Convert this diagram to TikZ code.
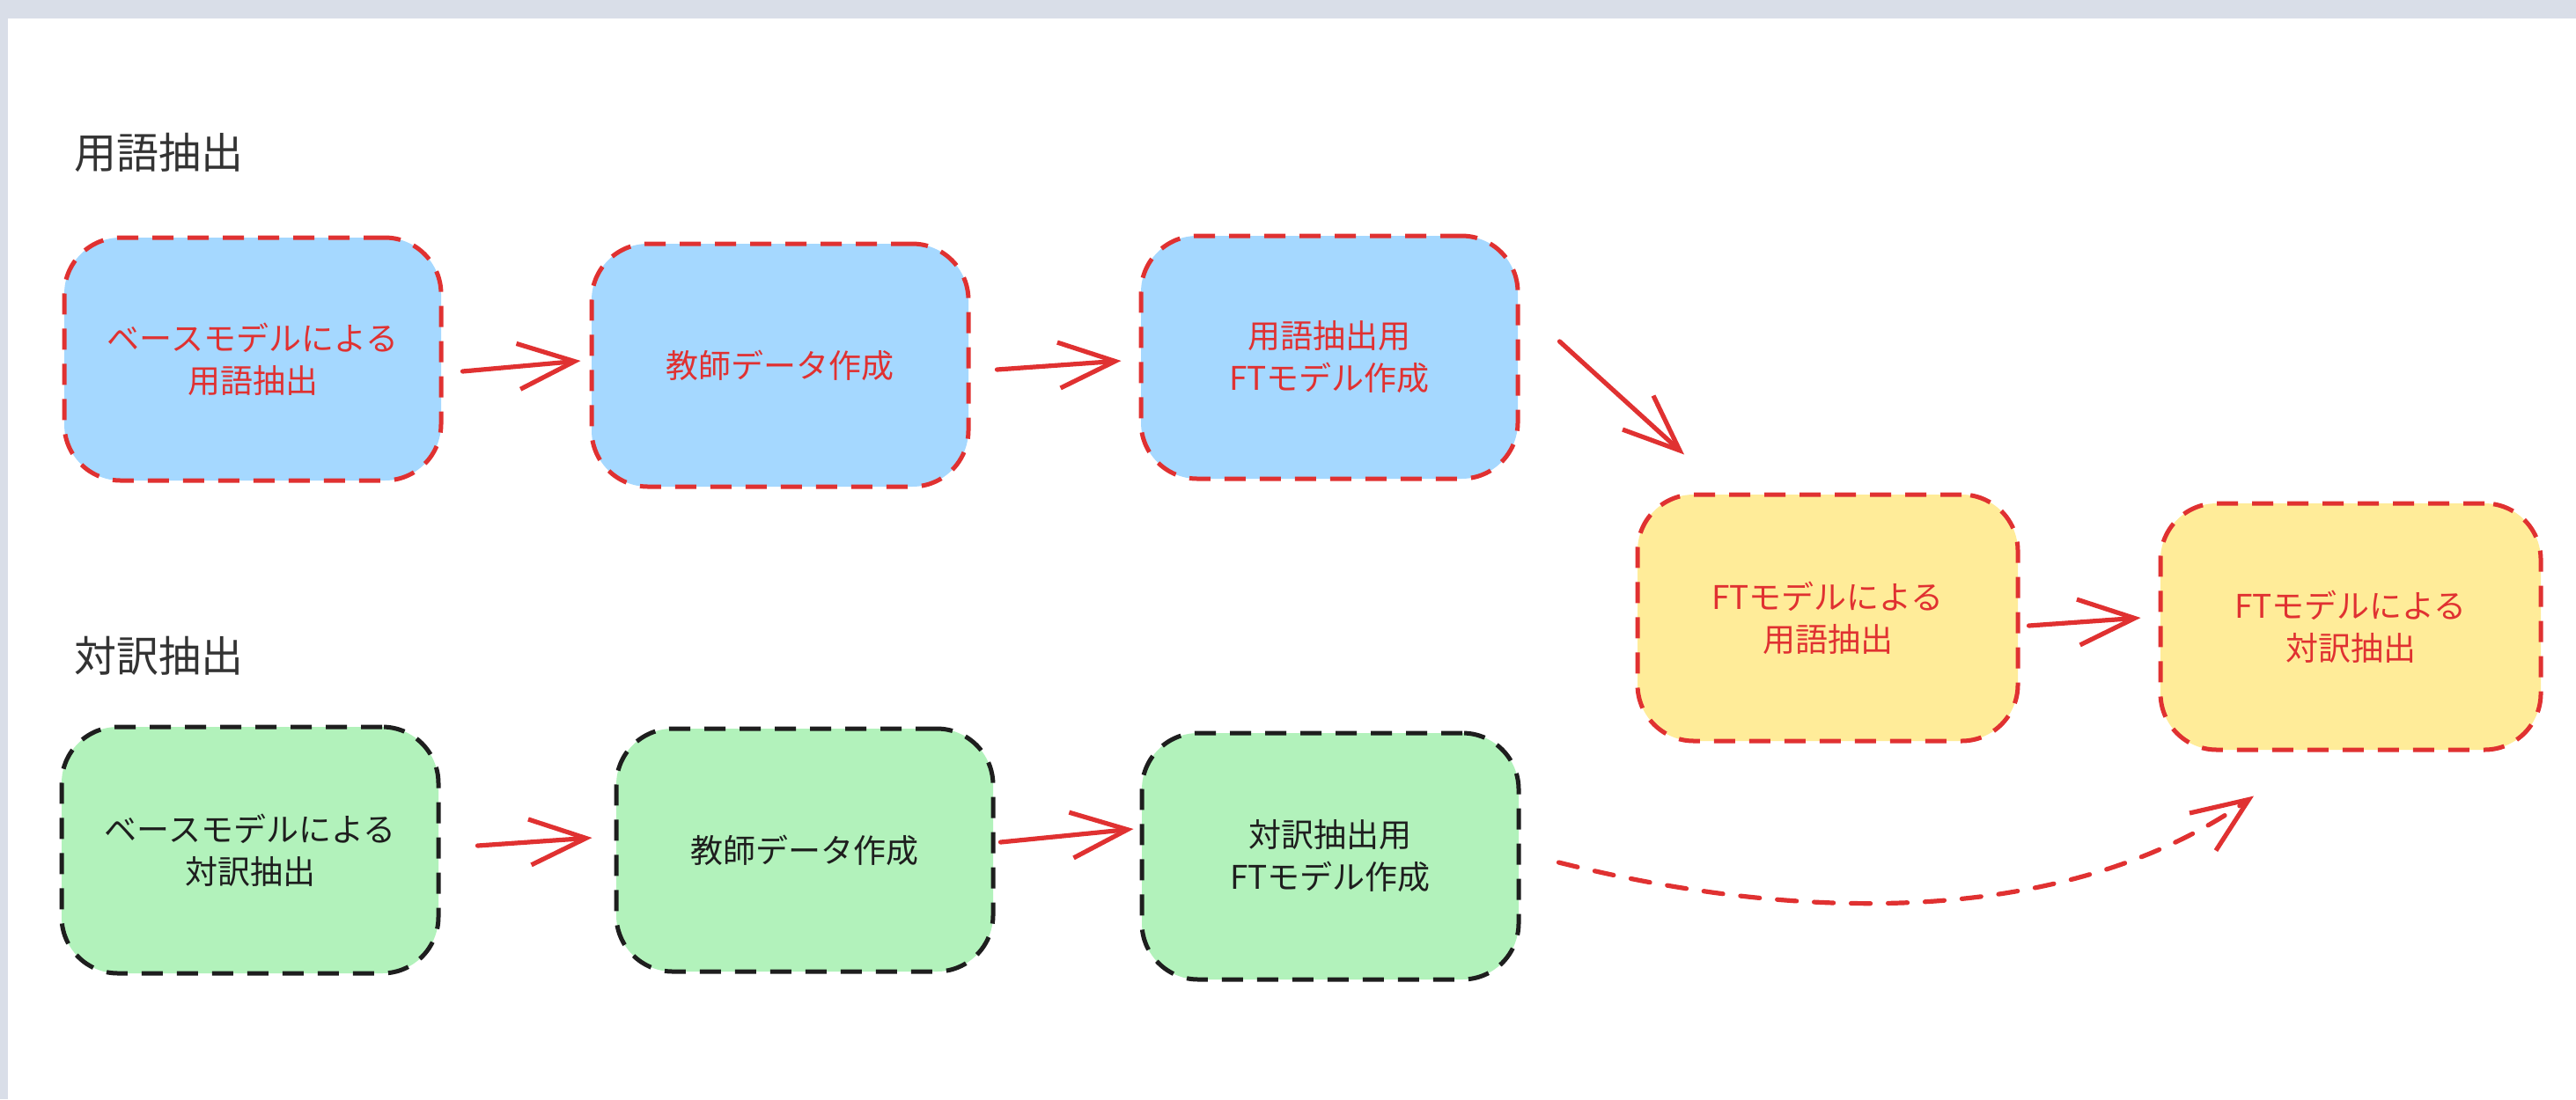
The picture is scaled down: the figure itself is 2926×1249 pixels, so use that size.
\documentclass[tikz,border=0pt]{standalone}
\usepackage{fontspec}
\setmainfont{Noto Sans CJK JP}
\usetikzlibrary{arrows.meta}
\definecolor{exred}{HTML}{E03131}
\definecolor{exblack}{HTML}{1E1E1E}
\definecolor{exblue}{HTML}{A5D8FF}
\definecolor{exyellow}{HTML}{FFEC99}
\definecolor{exgreen}{HTML}{B2F2BB}
\definecolor{bggray}{HTML}{D9DEE8}
\definecolor{titlegray}{HTML}{333333}
\tikzset{
  box/.style={draw, line width=2.5pt, dash pattern=on 12pt off 8pt, rounded corners=32pt,
    align=center, inner sep=0pt, font=\fontsize{18.5}{24}\selectfont,
    minimum width=214pt, minimum height=138pt},
  bluebox/.style={box, draw=exred, fill=exblue, text=exred},
  yellowbox/.style={box, draw=exred, fill=exyellow, text=exred},
  greenbox/.style={box, draw=exblack, fill=exgreen, text=exblack},
  title/.style={anchor=west, inner sep=0pt, text=titlegray, font=\fontsize{24}{28}\selectfont},
  flow/.style={draw=exred, line width=2.6pt, line cap=round, line join=round,
    -{Straight Barb[length=32pt, width=26pt, line width=2.6pt]}},
  dashflow/.style={flow, dash pattern=on 11pt off 10pt}
}
\begin{document}
\begin{tikzpicture}[x=0.5pt, y=-0.5pt]
\fill[bggray] (0,0) rectangle (2926,1249);
\fill[white] (9,21) rectangle (2926,1249);
\useasboundingbox (0,0) rectangle (2926,1249);

\node[title] (t1) at (84,173) {用語抽出};
\node[title] (t2) at (84,745) {対訳抽出};

\node[bluebox] (a1) at (287,408) {ベースモデルによる\\用語抽出};
\node[bluebox] (a2) at (886,415) {教師データ作成};
\node[bluebox] (a3) at (1510,406) {用語抽出用\\FTモデル作成};

\node[yellowbox, minimum width=216pt, minimum height=140pt] (b1) at (2076,702) {FTモデルによる\\用語抽出};
\node[yellowbox, minimum width=216pt, minimum height=140pt] (b2) at (2670,712) {FTモデルによる\\対訳抽出};

\node[greenbox, minimum height=140pt] (c1) at (284,966) {ベースモデルによる\\対訳抽出};
\node[greenbox] (c2) at (914,966) {教師データ作成};
\node[greenbox, minimum height=140pt] (c3) at (1511,973) {対訳抽出用\\FTモデル作成};

\draw[flow] ([shift={(22,14)}]a1.east) -- ([shift={(-10,-5)}]a2.west);
\draw[flow] ([shift={(30,5)}]a2.east) -- ([shift={(-20,4)}]a3.west);
\draw[flow] ([shift={(45,-18)}]a3.east) -- ([shift={(-163,-43)}]b1.north);
\draw[flow] ([shift={(10,9)}]b1.east) -- ([shift={(-20,-10)}]b2.west);
\draw[flow] ([shift={(42,-5)}]c1.east) -- ([shift={(-25,-14)}]c2.west);
\draw[flow] ([shift={(6,-9)}]c2.east) -- ([shift={(-7,-31)}]c3.west);
\draw[dashflow] ([shift={(43,7)}]c3.east) .. controls (2069,1055) and (2360,1045) .. ([shift={(-110,50)}]b2.south);
\end{tikzpicture}
\end{document}
